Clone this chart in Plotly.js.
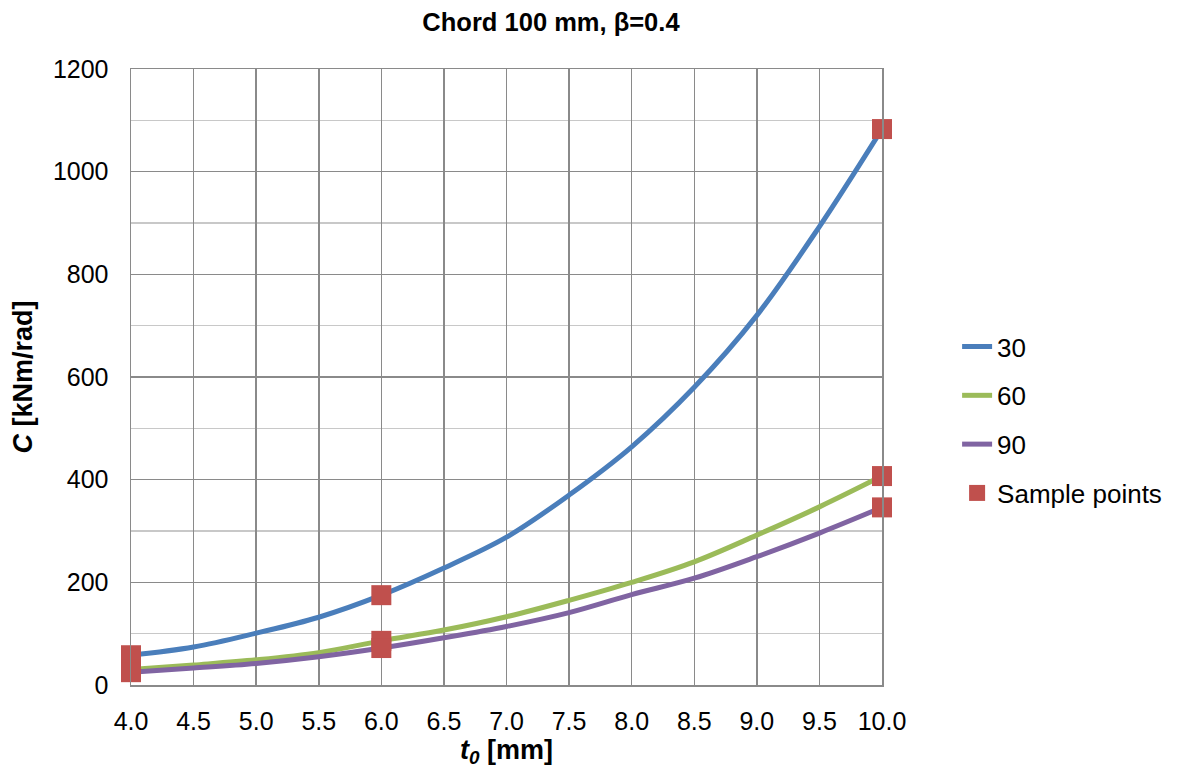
<!DOCTYPE html>
<html>
<head>
<meta charset="utf-8">
<script src="https://cdn.plot.ly/plotly-3.0.1.min.js"></script>
<style>html,body{margin:0;padding:0;background:#fff;}#chart{width:1190px;height:778px;}</style>
</head>
<body>
<div id="chart"></div>
<script>
const t0 = [4.0, 4.5, 5.0, 5.5, 6.0, 6.5, 7.0, 7.5, 8.0, 8.5, 9.0, 9.5, 10.0];
const c30 = [58, 74, 101, 132, 175, 228, 288, 370, 464, 580, 720, 893, 1083];
const c60 = [30, 39, 49, 63, 86, 107, 133, 165, 200, 240, 292, 347, 407];
const c90 = [25, 33, 42, 55, 72, 92, 114, 141, 176, 208, 250, 296, 346];
const sampleX = [4, 4, 4, 6, 6, 6, 10, 10, 10];
const sampleY = [58, 30, 25, 175, 86, 72, 1083, 407, 346];
const seriesNames = ['30', '60', '90', 'Sample points'];

const font = 'Liberation Sans, Arial, sans-serif';
const traces = [
  {x: t0, y: c30, name: seriesNames[0], mode: 'lines', line: {color: '#4A7EBB', width: 5, shape: 'spline'}, legendgroup: 'a'},
  {x: t0, y: c60, name: seriesNames[1], mode: 'lines', line: {color: '#9BBB59', width: 5, shape: 'spline'}, legendgroup: 'b'},
  {x: t0, y: c90, name: seriesNames[2], mode: 'lines', line: {color: '#8064A2', width: 5, shape: 'spline'}, legendgroup: 'c'},
  {x: sampleX, y: sampleY, name: seriesNames[3], mode: 'markers', cliponaxis: false, marker: {symbol: 'square', size: 20, color: '#C0504D'}, legendgroup: 'd'}
];

const layout = {
  width: 1190, height: 778,
  margin: {l: 131, r: 308, t: 69, b: 93},
  paper_bgcolor: '#fff', plot_bgcolor: '#fff',
  font: {family: font, size: 25, color: '#000'},
  title: {text: '<b>Chord 100 mm, β=0.4</b>', x: 0.463, xanchor: 'center', y: 0.971, yanchor: 'middle', font: {family: font, size: 25.5, color: '#000'}},
  xaxis: {
    range: [4, 10], dtick: 0.5, tick0: 4, tickformat: '.1f',
    showgrid: true, gridcolor: '#8A8A8A', gridwidth: 1.5,
    showline: true, linecolor: '#8A8A8A', linewidth: 1.5, mirror: true,
    ticks: '', zeroline: false, ticklabelstandoff: 13,
    tickfont: {family: font, size: 25, color: '#000'},
    title: {text: '<b><i>t<sub>0</sub></i> [mm]</b>', font: {family: font, size: 27, color: '#000'}, standoff: 6}
  },
  yaxis: {
    range: [0, 1200], dtick: 200, tick0: 0,
    showgrid: true, gridcolor: '#8A8A8A', gridwidth: 1.5,
    minor: {dtick: 100, showgrid: true, gridcolor: '#C8C8C8', gridwidth: 1.5},
    showline: true, linecolor: '#8A8A8A', linewidth: 1.5, mirror: true,
    ticks: '', zeroline: false, ticklabelstandoff: 16,
    tickfont: {family: font, size: 25, color: '#000'},
    title: {text: '<b><i>C</i> [kNm/rad]</b>', font: {family: font, size: 27, color: '#000'}, standoff: 12}
  },
  legend: {
    x: 1.10, xanchor: 'left', y: 0.43, yanchor: 'middle',
    font: {family: font, size: 26, color: '#000'},
    traceorder: 'grouped', tracegroupgap: 12,
    bgcolor: 'rgba(0,0,0,0)'
  },
  showlegend: true
};

Plotly.newPlot('chart', traces, layout, {displayModeBar: false, staticPlot: true});
</script>
</body>
</html>
